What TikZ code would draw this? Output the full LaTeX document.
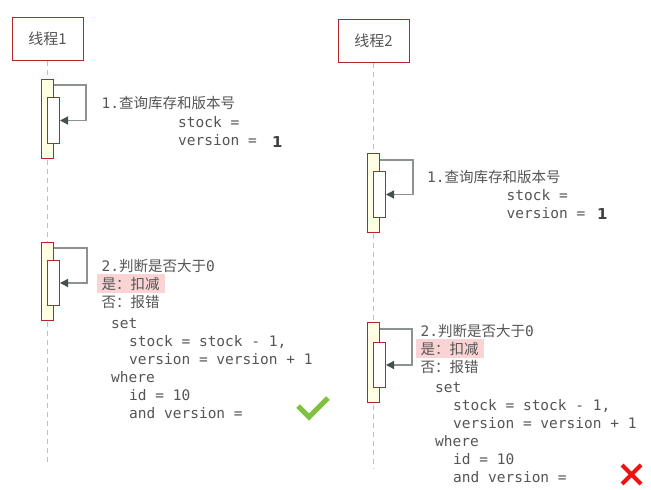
\documentclass[tikz,border=0pt]{standalone}
\usepackage{fontspec}
\usepackage{xcolor}
\usetikzlibrary{arrows.meta, positioning, calc}

\newfontfamily\cjk{Noto Sans CJK SC}
\newfontfamily\codefont{DejaVu Sans Mono}
\newfontfamily\numfont{DejaVu Sans}

\definecolor{boxred}{RGB}{178,40,40}
\definecolor{actfill}{RGB}{255,255,228}
\definecolor{txtgray}{RGB}{85,85,85}
\definecolor{loopgray}{RGB}{140,145,145}
\definecolor{tipdark}{RGB}{70,80,80}
\definecolor{hlpink}{RGB}{250,212,212}
\definecolor{okgreen}{RGB}{128,194,64}
\definecolor{badred}{RGB}{235,20,20}

\begin{document}
\begin{tikzpicture}[
    x=1pt, y=-1pt,
    thread/.style={draw=boxred, fill=white, line width=1pt, minimum width=71pt, minimum height=43pt, text=txtgray, font=\cjk\fontsize{15}{18}\selectfont},
    lifeline/.style={draw=gray!50, line width=1pt, dash pattern=on 5pt off 4pt},
    outerbar/.style={draw=boxred, fill=actfill, line width=1pt, minimum width=12pt, inner sep=0pt, anchor=north},
    innerbar/.style={draw=boxred, fill=white, line width=1pt, minimum width=12pt, inner sep=0pt, anchor=north},
    selfmsg/.style={draw=loopgray, line width=1.3pt, -{Triangle[length=8pt, width=8pt, color=tipdark]}},
    msgtext/.style={anchor=base west, inner sep=0pt, text=txtgray, align=left, font=\codefont\fontsize{14.5}{18}\selectfont},
    hltext/.style={msgtext, fill=hlpink, inner xsep=5pt, inner ysep=3pt},
    bignum/.style={anchor=base west, inner sep=0pt, text=black!75, font=\numfont\bfseries\fontsize{15}{18}\selectfont}
]
    \useasboundingbox[fill=white] (0,0) rectangle (651,490);

    % threads and lifelines
    \node[thread] (t1) at (47.5,38.5) {线程1};
    \node[thread] (t2) at (373.5,40.5) {线程2};
    \coordinate (t1end) at (47.5,465);
    \coordinate (t2end) at (373.5,468);
    \draw[lifeline] (t1.south) -- (t1end);
    \draw[lifeline] (t2.south) -- (t2end);

    % thread 1: query
    \node[outerbar, minimum height=79pt] (a1) at (47.5,79) {};
    \node[innerbar, minimum height=46pt] (a1i) at (53.5,97) {};
    \draw[selfmsg] ([yshift=-6pt]a1.north east) -- ++(32,0) |- (a1i.east);
    \node[msgtext] (q1) at (101.5,108) {1.{\cjk 查询库存和版本号}};
    \node[msgtext] (q1v) at (178,145) {stock =\\version =};
    \node[bignum] (q1n) at (272,147) {1};

    % thread 2: query
    \node[outerbar, minimum height=79pt] (b1) at (373.5,153) {};
    \node[innerbar, minimum height=46pt] (b1i) at (379.5,171) {};
    \draw[selfmsg] ([yshift=-7pt]b1.north east) -- ++(33,0) |- (b1i.east);
    \node[msgtext] (q2) at (427,182) {1.{\cjk 查询库存和版本号}};
    \node[msgtext] (q2v) at (506.5,218) {stock =\\version =};
    \node[bignum] (q2n) at (597,219) {1};

    % thread 1: update
    \node[outerbar, minimum height=78pt] (a2) at (47.5,242) {};
    \node[innerbar, minimum height=45pt] (a2i) at (53.5,260) {};
    \draw[selfmsg] ([yshift=-6pt]a2.north east) -- ++(33,0) |- (a2i.east);
    \node[msgtext] (u1) at (101.5,271) {2.{\cjk 判断是否大于}0};
    \node[hltext] (u1y) at (96.5,289) {\cjk 是：扣减};
    \node[msgtext] (u1n) at (101.5,307) {\cjk 否：报错};
    \node[msgtext] (sql1) at (111,418) {set\\\hspace*{18pt}stock = stock - 1,\\\hspace*{18pt}version = version + 1\\where\\\hspace*{18pt}id = 10\\\hspace*{18pt}and version =};
    \draw[okgreen, line width=5pt] (298,406) -- (309,417) -- (328,398);

    % thread 2: update
    \node[outerbar, minimum height=80pt] (b2) at (373.5,322) {};
    \node[innerbar, minimum height=45pt] (b2i) at (379.5,342) {};
    \draw[selfmsg] ([yshift=-7pt]b2.north east) -- ++(32,0) |- (b2i.east);
    \node[msgtext] (u2) at (420.5,336) {2.{\cjk 判断是否大于}0};
    \node[hltext] (u2y) at (415.5,354) {\cjk 是：扣减};
    \node[msgtext] (u2n) at (420.5,372) {\cjk 否：报错};
    \node[msgtext] (sql2) at (435,482) {set\\\hspace*{18pt}stock = stock - 1,\\\hspace*{18pt}version = version + 1\\where\\\hspace*{18pt}id = 10\\\hspace*{18pt}and version =};
    \draw[badred, line width=4pt] (622,465) -- (641,484) (641,465) -- (622,484);
\end{tikzpicture}
\end{document}
